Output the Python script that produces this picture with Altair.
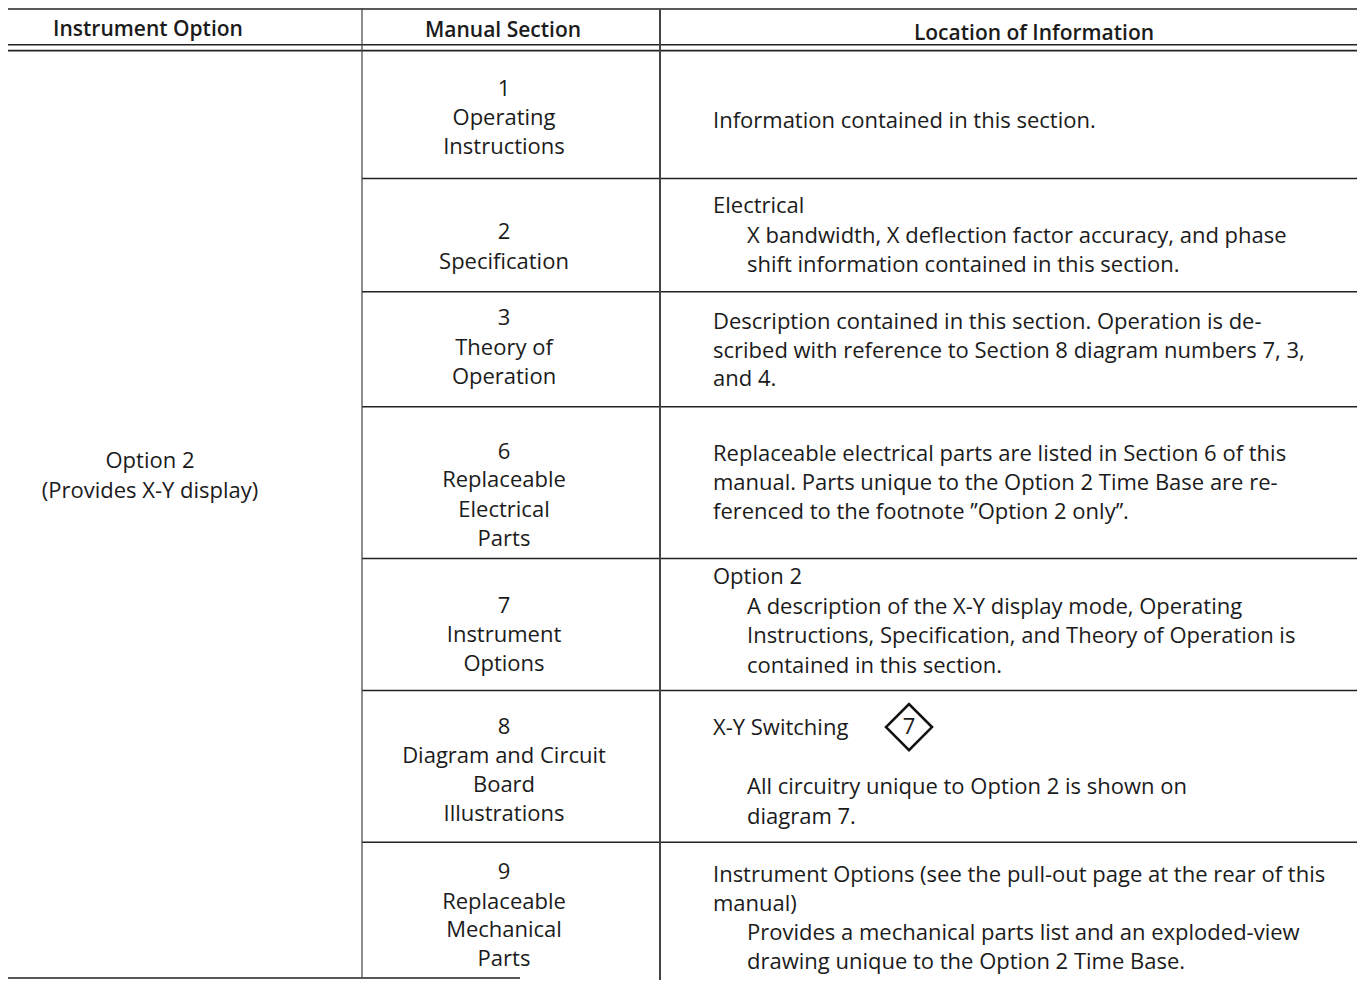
import altair as alt
import pandas as pd

# ---------------- content ----------------
headers = ["Instrument Option", "Manual Section", "Location of Information"]
option_lines = ["Option 2", "(Provides X-Y display)"]
section_numbers = ["1", "2", "3", "6", "7", "8", "9"]
section_titles = [
    ["Operating", "Instructions"],
    ["Specification"],
    ["Theory of", "Operation"],
    ["Replaceable", "Electrical", "Parts"],
    ["Instrument", "Options"],
    ["Diagram and Circuit", "Board", "Illustrations"],
    ["Replaceable", "Mechanical", "Parts"],
]
location_text = [
    ["Information contained in this section."],
    ["Electrical",
     "X bandwidth, X deflection factor accuracy, and phase",
     "shift information contained in this section."],
    ["Description contained in this section. Operation is de-",
     "scribed with reference to Section 8 diagram numbers 7, 3,",
     "and 4."],
    ["Replaceable electrical parts are listed in Section 6 of this",
     "manual. Parts unique to the Option 2 Time Base are re-",
     "ferenced to the footnote \u2019\u2019Option 2 only\u2019\u2019."],
    ["Option 2",
     "A description of the X-Y display mode, Operating",
     "Instructions, Specification, and Theory of Operation is",
     "contained in this section."],
    ["X-Y Switching",
     "All circuitry unique to Option 2 is shown on",
     "diagram 7."],
    ["Instrument Options (see the pull-out page at the rear of this",
     "manual)",
     "Provides a mechanical parts list and an exploded-view",
     "drawing unique to the Option 2 Time Base."],
]
location_indent = [
    [0], [0, 1, 1], [0, 0, 0], [0, 0, 0], [0, 1, 1, 1], [0, 1, 1], [0, 0, 1, 1],
]
diagram_number = "7"

# ---------------- layout (table geometry, reference-page pixels) ----------------
col_left, col_div1, col_div2, col_right = 8, 362, 660, 1357
header_x = [148, 503, 1034]
header_y = [30, 31, 34]
option_x, option_y = 150, [465, 495]
section_x = 504
section_y = [
    [90, 119, 148], [234, 264], [321, 351, 380], [456, 484, 514, 543],
    [611, 640, 669], [733, 762, 791, 821], [879, 909, 938, 967],
]
loc_x = [713, 747]
loc_y = [
    [122], [208, 238, 267], [325, 354, 382], [458, 487, 516],
    [582, 612, 641, 671], [734, 793, 824], [882, 911, 941, 970],
]
row_line_y = [180, 294, 410, 563, 696, 849]
bottom_y = 986
diamond_pos = (909, 733)

# ---------------- build tables ----------------
hrules = [dict(x=col_left, x2=col_right, y=9, w=1.5),
          dict(x=col_left, x2=col_right, y=45, w=1.6),
          dict(x=col_left, x2=col_right, y=51, w=1.6)]
for yy in row_line_y:
    hrules.append(dict(x=col_div1, x2=col_right, y=yy, w=1.5))
hrules.append(dict(x=col_left, x2=520, y=bottom_y, w=1.6))
hr = pd.DataFrame(hrules)

vr = pd.DataFrame([dict(x=col_div1, y=8, y2=bottom_y, w=1.2),
                   dict(x=col_div2, y=9, y2=988, w=2.0)])

hdr = pd.DataFrame(dict(x=header_x, y=header_y, t=headers))

center_rows = []
for t, yy in zip(option_lines, option_y):
    center_rows.append(dict(x=option_x, y=yy, t=t))
for num, titles, ys_ in zip(section_numbers, section_titles, section_y):
    for t, yy in zip([num] + titles, ys_):
        center_rows.append(dict(x=section_x, y=yy, t=t))
ctr = pd.DataFrame(center_rows)

left_rows = []
for lines, inds, ys_ in zip(location_text, location_indent, loc_y):
    for t, i, yy in zip(lines, inds, ys_):
        left_rows.append(dict(x=loc_x[i], y=yy, t=t))
lft = pd.DataFrame(left_rows)

dia = pd.DataFrame([dict(x=diamond_pos[0], y=diamond_pos[1], t=diagram_number)])

W, H = 1353, 972
xs = alt.Scale(domain=[8, 8 + W], range=[0, W])
ys = alt.Scale(domain=[8, 988], range=[0, H])
X = lambda f="x": alt.X(f"{f}:Q", scale=xs, axis=None)
Y = lambda f="y": alt.Y(f"{f}:Q", scale=ys, axis=None)

FONT = "Open Sans"
INK = "#1b1b1b"
BODY = 22

h_layer = alt.Chart(hr).mark_rule(color="#222").encode(
    x=X(), x2="x2:Q", y=Y(),
    strokeWidth=alt.StrokeWidth("w:Q", scale=None, legend=None))
v_layer = alt.Chart(vr).mark_rule(color="#444").encode(
    x=X(), y=Y(), y2="y2:Q",
    strokeWidth=alt.StrokeWidth("w:Q", scale=None, legend=None))

hdr_layer = alt.Chart(hdr).mark_text(
    font=FONT, fontSize=21, fontWeight=600, color=INK,
    align="center", baseline="middle").encode(x=X(), y=Y(), text="t:N")
ctr_layer = alt.Chart(ctr).mark_text(
    font=FONT, fontSize=BODY, color=INK,
    align="center", baseline="middle").encode(x=X(), y=Y(), text="t:N")
lft_layer = alt.Chart(lft).mark_text(
    font=FONT, fontSize=BODY, color=INK,
    align="left", baseline="middle").encode(x=X(), y=Y(), text="t:N")

dia_shape = alt.Chart(dia).mark_point(
    shape="diamond", size=2116, filled=False, stroke="#111",
    strokeWidth=2.6, opacity=1).encode(x=X(), y=Y())
dia_text = alt.Chart(dia).mark_text(
    font=FONT, fontSize=22, color=INK,
    align="center", baseline="middle").encode(x=X(), y=Y(), text="t:N")

chart = alt.layer(
    h_layer, v_layer, hdr_layer, ctr_layer, lft_layer, dia_shape, dia_text
).properties(
    width=W, height=H, padding=0, autosize=alt.AutoSizeParams(type="none"),
    background="white"
).configure_view(stroke=None)

chart.save("out.html", embed_options={"renderer": "svg", "actions": False})
